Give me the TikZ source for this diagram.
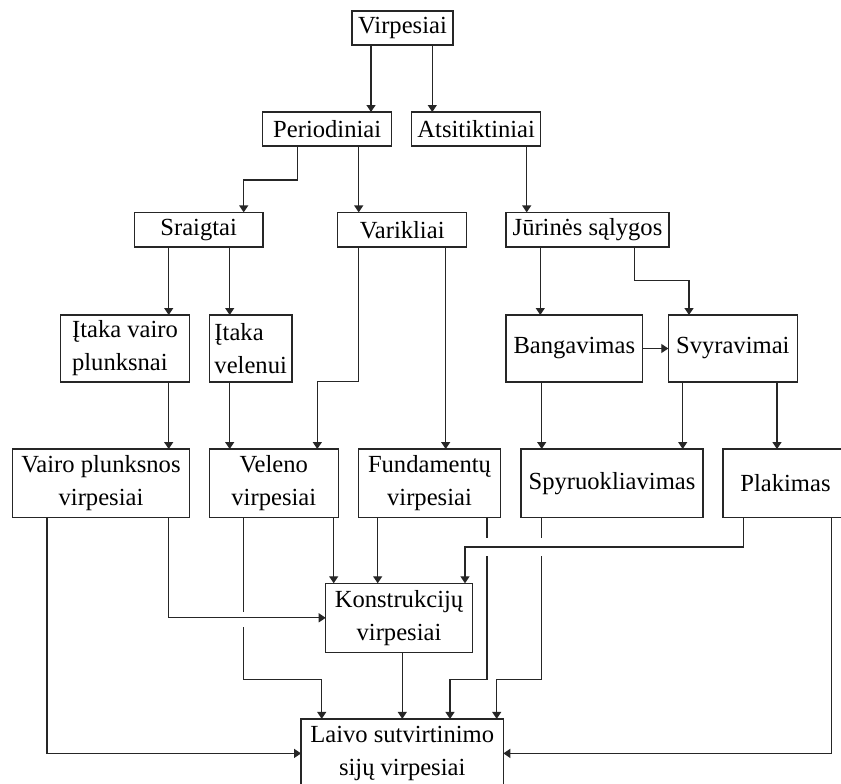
\documentclass[tikz,border=0pt]{standalone}
\usepackage{fontspec}
\setmainfont{Liberation Serif}
\usetikzlibrary{arrows.meta}
\tikzset{
  box/.style={draw=black!85, line width=1.3pt, inner sep=0pt, outer sep=0pt,
    font={\fontsize{24.6}{33}\selectfont}, align=center},
  arr/.style={draw=black!85, line width=1.3pt, -{Triangle[length=7pt,width=9pt]}},
  gapline/.style={draw=white, line width=5pt, line cap=butt}
}
\begin{document}
\begin{tikzpicture}[x=1pt,y=-1pt]
\useasboundingbox (0,0) rectangle (841,784);
% nodes
\node[box, minimum width=101pt, minimum height=34pt] (vir) at (402.5,28) {Virpesiai};
\node[box, minimum width=129pt, minimum height=34pt] (per) at (327.2,129) {Periodiniai};
\node[box, minimum width=129pt, minimum height=34pt] (ats) at (476.2,129) {Atsitiktiniai};
\node[box, minimum width=128.7pt, minimum height=34.7pt] (sra) at (198.7,229.7) {Sraigtai};
\node[box, minimum width=129pt, minimum height=34.7pt] (var) at (402.2,229.7) {Varikliai};
\node[box, minimum width=163pt, minimum height=34.7pt] (jur) at (587.5,229.7) {Jūrinės sąlygos};
\node[box, align=left, minimum width=128.6pt, minimum height=67pt] (itv) at (125,348.5) {Įtaka vairo\\plunksnai};
\node[box, align=left, minimum width=82.7pt, minimum height=67pt] (itl) at (250.7,348.5) {Įtaka\\velenui};
\node[box, minimum width=136.7pt, minimum height=67pt] (ban) at (574.3,348.5) {Bangavimas};
\node[box, minimum width=129pt, minimum height=67pt] (svy) at (732.8,348.5) {Svyravimai};
\node[box, minimum width=176.6pt, minimum height=68.3pt] (vpv) at (101,483.2) {Vairo plunksnos\\virpesiai};
\node[box, minimum width=129pt, minimum height=68.3pt] (vel) at (273.8,483.2) {Veleno\\virpesiai};
\node[box, minimum width=142.4pt, minimum height=68.3pt] (fun) at (429.5,483.2) {Fundamentų\\virpesiai};
\node[box, minimum width=182pt, minimum height=68.3pt] (spy) at (612,483.2) {Spyruokliavimas};
\node[box, minimum width=125pt, minimum height=68.3pt] (pla) at (785.5,483.2) {Plakimas};
\node[box, minimum width=146.6pt, minimum height=69pt] (kon) at (399,617.8) {Konstrukcijų\\virpesiai};
\node[box, minimum width=202.3pt, minimum height=69pt] (lai) at (402.2,753.4) {Laivo sutvirtinimo\\sijų virpesiai};
% connectors
\draw[arr] (371,0 |- vir.south) -- (371,0 |- per.north);
\draw[arr] (432.3,0 |- vir.south) -- (432.3,0 |- ats.north);
\draw[arr] (297.3,0 |- per.south) |- (243.7,180) -- (243.7,0 |- sra.north);
\draw[arr] (358.7,0 |- per.south) -- (358.7,0 |- var.north);
\draw[arr] (526.7,0 |- ats.south) -- (526.7,0 |- jur.north);
\draw[arr] (168.7,0 |- sra.south) -- (168.7,0 |- itv.north);
\draw[arr] (229.7,0 |- sra.south) -- (229.7,0 |- itl.north);
\draw[arr] (358.7,0 |- var.south) |- (317.3,381.7) -- (317.3,0 |- vel.north);
\draw[arr] (445.7,0 |- var.south) -- (445.7,0 |- fun.north);
\draw[arr] (540.3,0 |- jur.south) -- (540.3,0 |- ban.north);
\draw[arr] (634.3,0 |- jur.south) |- (689,280.7) -- (689,0 |- svy.north);
\draw[arr] (ban.east) -- (svy.west);
\draw[arr] (168.7,0 |- itv.south) -- (168.7,0 |- vpv.north);
\draw[arr] (229.7,0 |- itl.south) -- (229.7,0 |- vel.north);
\draw[arr] (541.7,0 |- ban.south) -- (541.7,0 |- spy.north);
\draw[arr] (682.7,0 |- svy.south) -- (682.7,0 |- spy.north);
\draw[arr] (777,0 |- svy.south) -- (777,0 |- pla.north);
\draw[arr] (47,0 |- vpv.south) |- (lai.west);
\draw[arr] (243.7,0 |- vel.south) |- (321.7,679.3) -- (321.7,0 |- lai.north);
\draw[arr] (333.7,0 |- vel.south) -- (333.7,0 |- kon.north);
\draw[arr] (377.7,0 |- fun.south) -- (377.7,0 |- kon.north);
\draw[arr] (487,0 |- fun.south) |- (450,679.3) -- (450,0 |- lai.north);
\draw[arr] (541.7,0 |- spy.south) |- (496.7,679.3) -- (496.7,0 |- lai.north);
\draw[arr] (831.3,0 |- pla.south) |- (lai.east);
\draw[arr] (402.3,0 |- kon.south) -- (402.3,0 |- lai.north);
% line-jump gaps
\draw[gapline] (243.7,611.7) -- (243.7,626.7);
\draw[gapline] (487,538.3) -- (487,556);
\draw[gapline] (541.7,538.3) -- (541.7,556);
% crossing connectors
\draw[arr] (168.7,0 |- vpv.south) |- (kon.west);
\draw[arr] (743.7,0 |- pla.south) |- (465,547) -- (465,0 |- kon.north);
\end{tikzpicture}
\end{document}
